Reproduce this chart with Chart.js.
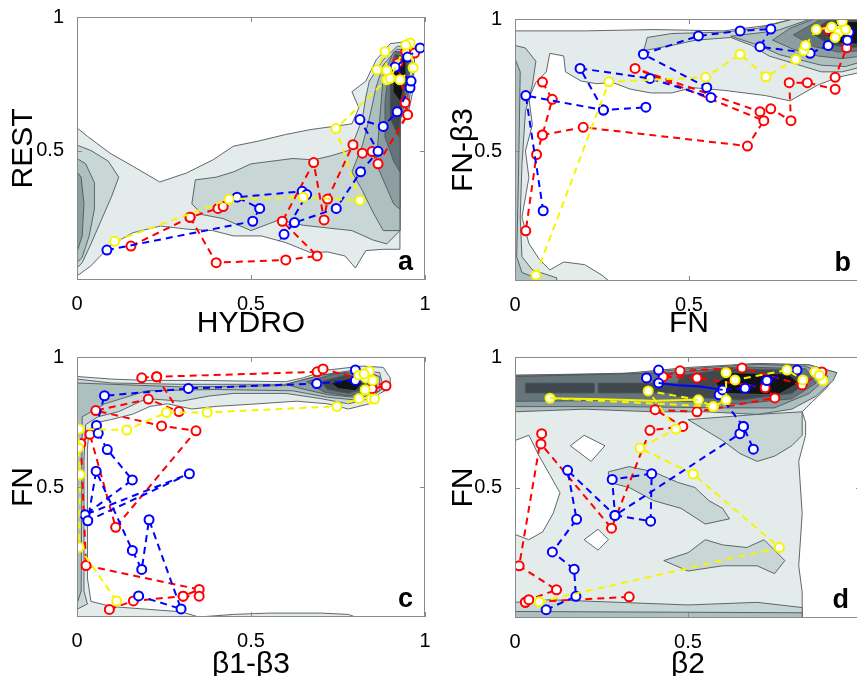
<!DOCTYPE html>
<html>
<head>
<meta charset="utf-8">
<script src="https://cdn.jsdelivr.net/npm/chart.js@4.4.1/dist/chart.umd.min.js"></script>
<style>
  html, body { margin: 0; padding: 0; background: #fff; width: 857px; height: 676px; overflow: hidden; }
  .panel { position: absolute; }
</style>
</head>
<body>
<div class="panel" style="left:0;top:0"><canvas id="panelA" width="440" height="346"></canvas></div>
<div class="panel" style="left:440px;top:0"><canvas id="panelB" width="440" height="346"></canvas></div>
<div class="panel" style="left:0;top:340px"><canvas id="panelC" width="440" height="347"></canvas></div>
<div class="panel" style="left:440px;top:340px"><canvas id="panelD" width="440" height="347"></canvas></div>
<script>
// ---- tick labels ----
const ticksFull = [0, 0.5, 1];
const ticksCut = [0, 0.5];
const ticksY = [0.5, 1];

// ---- panel a: REST vs HYDRO ----
const aRed1 = [[0.155,0.142],[0.325,0.25],[0.405,0.283],[0.42,0.29]];
const aRed2 = [[0.325,0.25],[0.40,0.08],[0.60,0.09],[0.69,0.105],[0.59,0.235],[0.68,0.455],[0.71,0.24],[0.72,0.318],[0.793,0.522],[0.82,0.49],[0.848,0.496],[0.865,0.45],[0.95,0.634],[0.943,0.679],[0.922,0.828],[0.945,0.87],[0.97,0.865]];
const aBlue = [[0.086,0.127],[0.505,0.235],[0.525,0.283],[0.46,0.325],[0.647,0.347],[0.66,0.335],[0.595,0.186],[0.625,0.23],[0.745,0.283],[0.815,0.42],[0.865,0.497],[0.813,0.616],[0.88,0.59],[0.92,0.645],[0.957,0.735],[0.96,0.76],[0.914,0.813],[0.95,0.85],[0.986,0.884]];
const aYellow = [[0.108,0.16],[0.437,0.317],[0.65,0.325],[0.813,0.313],[0.744,0.582],[0.89,0.765],[0.862,0.802],[0.885,0.87],[0.89,0.8],[0.928,0.765],[0.966,0.81],[0.957,0.903],[0.945,0.895],[0.9,0.77]];

const aC1 = [[0,0.585],[0.03,0.553],[0.095,0.49],[0.162,0.44],[0.238,0.382],[0.315,0.416],[0.392,0.466],[0.449,0.516],[0.52,0.535],[0.6,0.56],[0.669,0.578],[0.736,0.59],[0.79,0.6],[0.81,0.66],[0.79,0.72],[0.83,0.76],[0.86,0.84],[0.9,0.9],[0.96,0.91],[0.97,0.84],[0.965,0.72],[0.95,0.63],[0.928,0.6],[0.928,0.13],[0.88,0.13],[0.83,0.125],[0.80,0.06],[0.77,0.105],[0.72,0.12],[0.67,0.118],[0.6,0.155],[0.53,0.18],[0.45,0.18],[0.39,0.2],[0.32,0.205],[0.24,0.217],[0.16,0.192],[0.095,0.143],[0.04,0.068],[0,0.03]];
const aC2L = [[0,0.52],[0.04,0.5],[0.09,0.46],[0.12,0.4],[0.1,0.33],[0.07,0.24],[0.04,0.15],[0.015,0.08],[0,0.06]];
const aC2M = [[0.33,0.3],[0.34,0.39],[0.4,0.4],[0.45,0.42],[0.5,0.45],[0.56,0.46],[0.62,0.47],[0.68,0.465],[0.73,0.48],[0.78,0.5],[0.8,0.55],[0.82,0.62],[0.83,0.7],[0.84,0.76],[0.88,0.84],[0.92,0.89],[0.96,0.89],[0.965,0.78],[0.95,0.65],[0.928,0.62],[0.928,0.2],[0.89,0.15],[0.85,0.165],[0.79,0.2],[0.72,0.21],[0.65,0.22],[0.58,0.24],[0.5,0.2],[0.42,0.245],[0.36,0.26]];
const aC3L = [[0,0.47],[0.025,0.45],[0.05,0.38],[0.05,0.28],[0.035,0.18],[0.015,0.1],[0,0.08]];
const aC3R = [[0.79,0.42],[0.82,0.35],[0.85,0.27],[0.88,0.2],[0.928,0.2],[0.928,0.62],[0.95,0.67],[0.955,0.78],[0.96,0.87],[0.92,0.88],[0.88,0.82],[0.86,0.74],[0.84,0.62],[0.82,0.52]];
const aC4L = [[0,0.42],[0.012,0.4],[0.02,0.3],[0.015,0.18],[0,0.12]];
const aC4R = [[0.86,0.45],[0.89,0.36],[0.91,0.3],[0.928,0.28],[0.928,0.62],[0.95,0.7],[0.955,0.87],[0.91,0.87],[0.88,0.78],[0.87,0.62]];
const aC5 = [[0.885,0.55],[0.91,0.46],[0.928,0.42],[0.928,0.64],[0.948,0.72],[0.955,0.86],[0.915,0.87],[0.895,0.79],[0.885,0.68]];
const aC6 = [[0.9,0.62],[0.925,0.55],[0.935,0.68],[0.948,0.76],[0.95,0.85],[0.915,0.86],[0.9,0.77]];
const aC7 = [[0.908,0.72],[0.93,0.68],[0.945,0.78],[0.945,0.84],[0.92,0.85],[0.908,0.8]];

// ---- panel b: FN-b3 vs FN ----
const bRed1 = [[0.079,0.761],[0.107,0.696],[0.079,0.561],[0.062,0.487],[0.031,0.198]];
const bRed2 = [[0.079,0.561],[0.196,0.59],[0.668,0.519],[0.715,0.615],[0.345,0.813],[0.704,0.649],[0.735,0.66],[0.793,0.615],[0.788,0.759],[0.84,0.759],[0.92,0.734],[0.92,0.779],[0.953,0.891],[0.93,0.95],[0.9,0.96]];
const bBlue1 = [[0.081,0.274],[0.031,0.71],[0.254,0.655],[0.376,0.666]];
const bBlue2 = [[0.254,0.655],[0.187,0.813],[0.388,0.775],[0.563,0.703],[0.551,0.741],[0.369,0.867],[0.527,0.936],[0.647,0.955],[0.735,0.962],[0.704,0.895],[0.848,0.87],[0.9,0.9],[0.93,0.96],[0.96,0.95],[0.955,0.92]];
const bYellow = [[0.06,0.03],[0.27,0.762],[0.548,0.779],[0.647,0.867],[0.721,0.781],[0.807,0.847],[0.83,0.88],[0.835,0.9],[0.866,0.96],[0.91,0.97],[0.93,0.95],[0.94,0.99],[0.95,0.96],[0.92,0.93]];

const bC1 = [[0,0.955],[0.2,0.955],[0.4,0.96],[0.6,0.955],[0.72,0.975],[0.8,1],[1,1],[1,0.8],[0.93,0.78],[0.87,0.75],[0.83,0.72],[0.79,0.69],[0.72,0.71],[0.6,0.73],[0.51,0.74],[0.45,0.72],[0.39,0.72],[0.33,0.735],[0.28,0.76],[0.235,0.755],[0.19,0.765],[0.145,0.8],[0.14,0.86],[0.1,0.87],[0.09,0.8],[0.06,0.76],[0.04,0.7],[0.05,0.6],[0.03,0.5],[0.04,0.4],[0.02,0.25],[0.04,0.15],[0.07,0.09],[0.1,0.05],[0.14,0.08],[0.2,0.07],[0.25,0.03],[0.27,0.008],[0,0.008]];
const bC2T = [[0.37,0.88],[0.45,0.9],[0.52,0.92],[0.62,0.93],[0.68,0.9],[0.73,0.86],[0.78,0.84],[0.83,0.82],[0.88,0.8],[0.94,0.8],[1,0.82],[1,1],[0.8,1],[0.7,0.965],[0.6,0.95],[0.45,0.945],[0.38,0.93]];
const bC2L = [[0,0.9],[0.03,0.89],[0.06,0.84],[0.05,0.75],[0.03,0.65],[0.02,0.45],[0.015,0.25],[0.02,0.1],[0.05,0.05],[0.12,0.02],[0.12,0.008],[0,0.008]];
const bC3L = [[0,0.85],[0.015,0.8],[0.01,0.4],[0.005,0.1],[0.02,0.04],[0.06,0.02],[0.06,0.008],[0,0.008]];
const bC3 = [[0.62,0.935],[0.7,0.9],[0.76,0.865],[0.82,0.845],[0.88,0.825],[0.95,0.82],[1,0.84],[1,1],[0.85,1],[0.75,0.955]];
const bC4 = [[0.74,0.92],[0.8,0.885],[0.87,0.86],[0.94,0.85],[1,0.86],[1,1],[0.86,1],[0.79,0.965]];
const bC5 = [[0.8,0.94],[0.86,0.895],[0.93,0.875],[1,0.88],[1,1],[0.88,1]];
const bC6 = [[0.85,0.95],[0.9,0.905],[0.96,0.89],[1,0.895],[1,0.995],[0.9,0.995]];
const bC7 = [[0.88,0.96],[0.92,0.91],[0.98,0.905],[1,0.91],[1,0.99],[0.92,0.99]];

// ---- panel c: FN vs b1-b3 ----
const cRed1 = [[0.186,0.92],[0.229,0.924],[0.69,0.943],[0.707,0.954],[0.888,0.889],[0.848,0.878]];
const cRed2 = [[0.229,0.924],[0.293,0.79],[0.205,0.838],[0.054,0.794],[0.243,0.735],[0.342,0.716],[0.111,0.345],[0.037,0.703],[0.011,0.667],[0.026,0.198],[0.351,0.106],[0.305,0.08],[0.351,0.08]];
const cRed3 = [[0.093,0.029],[0.162,0.062],[0.305,0.08]];
const cBlue = [[0.8,0.95],[0.8,0.91],[0.689,0.898],[0.32,0.879],[0.079,0.851],[0.056,0.737],[0.061,0.707],[0.087,0.644],[0.159,0.527],[0.023,0.393],[0.323,0.551],[0.031,0.37],[0.055,0.561],[0.159,0.256],[0.186,0.183],[0.207,0.374],[0.299,0.031],[0.177,0.081]];
const cYellow = [[0.114,0.062],[0.006,0.268],[0.009,0.548],[0.004,0.65],[0.006,0.723],[0.143,0.719],[0.257,0.787],[0.374,0.787],[0.747,0.81],[0.81,0.84],[0.845,0.838],[0.855,0.838],[0.828,0.874],[0.83,0.92],[0.81,0.93],[0.84,0.945],[0.85,0.91],[0.825,0.935]];

const cC1 = [[0,0.925],[0.1,0.915],[0.2,0.91],[0.35,0.91],[0.6,0.905],[0.65,0.92],[0.72,0.95],[0.82,0.965],[0.88,0.96],[0.9,0.92],[0.9,0.88],[0.87,0.86],[0.84,0.82],[0.78,0.8],[0.72,0.82],[0.63,0.83],[0.52,0.82],[0.4,0.81],[0.33,0.8],[0.26,0.82],[0.21,0.81],[0.16,0.78],[0.1,0.76],[0.065,0.75],[0.035,0.72],[0.03,0.65],[0.03,0.15],[0.04,0.06],[0.1,0.04],[0.2,0.03],[0.3,0.02],[0.35,0],[0,0]];
const cC1B = [[0.35,0],[0.45,0.01],[0.55,0.015],[0.7,0.015],[0.78,0.01],[0.8,0]];
const cC2 = [[0,0.915],[0.1,0.9],[0.3,0.895],[0.6,0.895],[0.7,0.93],[0.8,0.95],[0.87,0.94],[0.88,0.88],[0.84,0.84],[0.78,0.82],[0.7,0.84],[0.6,0.86],[0.45,0.86],[0.38,0.85],[0.3,0.83],[0.2,0.84],[0.12,0.79],[0.06,0.77],[0.025,0.74],[0.02,0.6],[0.02,0.1],[0.03,0.05],[0,0.03]];
const cC3 = [[0,0.9],[0.3,0.885],[0.6,0.89],[0.7,0.925],[0.82,0.945],[0.87,0.925],[0.87,0.87],[0.8,0.835],[0.72,0.845],[0.62,0.87],[0.4,0.875],[0.2,0.87],[0.08,0.82],[0.015,0.77],[0.012,0.1],[0,0.05]];
const cC4 = [[0.6,0.895],[0.7,0.93],[0.8,0.945],[0.86,0.93],[0.86,0.87],[0.8,0.845],[0.72,0.855],[0.64,0.88]];
const cC5 = [[0.66,0.905],[0.74,0.935],[0.82,0.94],[0.85,0.915],[0.845,0.87],[0.78,0.85],[0.71,0.865]];
const cC6 = [[0.7,0.905],[0.77,0.93],[0.83,0.925],[0.835,0.88],[0.78,0.86],[0.72,0.875]];
const cC7 = [[0.73,0.9],[0.79,0.92],[0.82,0.9],[0.8,0.87],[0.75,0.878]];

// ---- panel d: FN vs b2 ----
const dRed1 = [[0.03,0.06],[0.04,0.07],[0.12,0.108],[0.012,0.2],[0.077,0.706],[0.075,0.667],[0.279,0.344],[0.39,0.719],[0.485,0.734],[0.405,0.798],[0.526,0.79],[0.751,0.843],[0.723,0.882],[0.526,0.92],[0.428,0.924],[0.477,0.947],[0.656,0.958],[0.83,0.893],[0.887,0.943]];
const dRed2 = [[0.03,0.06],[0.33,0.081]];
const dBlue1 = [[0.09,0.032],[0.176,0.083],[0.171,0.187],[0.108,0.253],[0.178,0.378],[0.152,0.566],[0.289,0.393],[0.281,0.531],[0.395,0.553],[0.392,0.371],[0.289,0.393],[0.65,0.706],[0.66,0.734],[0.689,0.647]];
const dBlue2 = [[0.66,0.734],[0.59,0.855],[0.6,0.874],[0.665,0.88],[0.728,0.91],[0.815,0.95]];
const dBlue3 = [[0.415,0.95],[0.415,0.9],[0.38,0.92]];
const dBlueSolid = [[0.415,0.9],[0.47,0.892],[0.53,0.888],[0.6,0.874]];
const dYellow = [[0.07,0.062],[0.764,0.27],[0.515,0.552],[0.361,0.651],[0.465,0.724],[0.385,0.87],[0.53,0.836],[0.573,0.81],[0.61,0.836],[0.61,0.94],[0.636,0.912],[0.786,0.95],[0.832,0.912],[0.867,0.943],[0.89,0.91],[0.88,0.93]];
const dYellow2 = [[0.101,0.842],[0.573,0.81]];
const dYellowSolid = [[0.101,0.842],[0.25,0.838],[0.4,0.832],[0.53,0.836]];

const dC1 = [[0,0],[0,0.93],[0.2,0.935],[0.4,0.94],[0.55,0.96],[0.7,0.975],[0.85,0.97],[0.93,0.94],[0.9,0.88],[0.86,0.83],[0.83,0.79],[0.84,0.75],[0.84,0.7],[0.82,0.6],[0.83,0.4],[0.82,0.2],[0.83,0.1],[0.83,0]];
const dHole1 = [[0,0.68],[0.04,0.7],[0.07,0.62],[0.1,0.55],[0.13,0.48],[0.11,0.4],[0.08,0.33],[0.04,0.3],[0,0.32]];
const dHole2 = [[0.2,0.3],[0.24,0.34],[0.27,0.3],[0.24,0.26]];
const dHole3 = [[0.16,0.66],[0.2,0.7],[0.26,0.66],[0.22,0.6]];
const dC2a = [[0.5,0.76],[0.55,0.72],[0.6,0.68],[0.65,0.63],[0.7,0.6],[0.75,0.62],[0.8,0.66],[0.83,0.7],[0.83,0.79],[0.7,0.78]];
const dC2b = [[0.27,0.56],[0.33,0.58],[0.4,0.56],[0.47,0.52],[0.52,0.5],[0.56,0.45],[0.6,0.42],[0.62,0.38],[0.55,0.36],[0.48,0.42],[0.4,0.45],[0.33,0.5],[0.27,0.52]];
const dC2c = [[0.43,0.22],[0.5,0.25],[0.55,0.3],[0.6,0.28],[0.67,0.27],[0.72,0.3],[0.78,0.22],[0.75,0.17],[0.7,0.2],[0.6,0.2],[0.5,0.18]];
const dC2d = [[0,0],[0,0.06],[0.1,0.07],[0.3,0.06],[0.5,0.05],[0.7,0.06],[0.83,0.04],[0.83,0]];
const dC3b = [[0,0],[0,0.025],[0.83,0.02],[0.83,0]];
const dC3 = [[0,0.79],[0.2,0.8],[0.4,0.79],[0.55,0.79],[0.7,0.78],[0.8,0.8],[0.87,0.85],[0.92,0.91],[0.93,0.94],[0.85,0.97],[0.7,0.975],[0.5,0.96],[0.3,0.935],[0,0.93]];
const dC4 = [[0,0.81],[0.3,0.81],[0.6,0.805],[0.75,0.805],[0.85,0.86],[0.905,0.925],[0.84,0.965],[0.7,0.972],[0.5,0.955],[0.3,0.93],[0,0.927]];
const dC5 = [[0,0.83],[0.4,0.835],[0.65,0.82],[0.8,0.84],[0.87,0.9],[0.84,0.955],[0.65,0.962],[0.45,0.94],[0,0.925]];
const dC6 = [[0.45,0.85],[0.65,0.835],[0.8,0.86],[0.85,0.91],[0.8,0.95],[0.62,0.955],[0.48,0.93]];
const dC7 = [[0.6,0.86],[0.76,0.855],[0.82,0.9],[0.79,0.935],[0.63,0.94],[0.58,0.9]];
const dR1 = [[0.03,0.862],[0.23,0.862],[0.23,0.9],[0.03,0.9]];
const dR2 = [[0.24,0.862],[0.486,0.862],[0.486,0.9],[0.24,0.9]];

const levelFills = ['#ffffff', '#e3ebeb', '#c9d6d6', '#aebfc0', '#8c9ea1', '#66757a', '#3f484d', '#101214'];

const contourSets = {
    panelA: [[1, aC1], [2, aC2L], [2, aC2M], [3, aC3L], [3, aC3R], [4, aC4L], [4, aC4R], [5, aC5], [6, aC6], [7, aC7]],
    panelB: [[1, bC1], [2, bC2T], [2, bC2L], [3, bC3L], [3, bC3], [4, bC4], [5, bC5], [6, bC6], [7, bC7]],
    panelC: [[1, cC1], [1, cC1B], [2, cC2], [3, cC3], [4, cC4], [5, cC5], [6, cC6], [7, cC7]],
    panelD: [[1, dC1], [0, dHole1], [0, dHole2], [0, dHole3], [2, dC2a], [2, dC2b], [2, dC2c], [2, dC2d], [3, dC3b], [3, dC3], [4, dC4], [5, dC5], [6, dR1], [6, dR2], [6, dC6], [7, dC7]],
};

const FONT = "'Liberation Sans', Arial, Helvetica, sans-serif";

const contourPlugin = {
    id: 'contours',
    beforeDatasetsDraw(chart) {
        const shapes = contourSets[chart.canvas.id] ?? [];
        const {ctx, chartArea: area, scales: {x, y}} = chart;
        ctx.save();
        ctx.beginPath();
        ctx.rect(area.left, area.top, area.width, area.height);
        ctx.clip();
        shapes.forEach(([level, pts]) => {
            ctx.beginPath();
            pts.forEach(([vx, vy], i) => {
                const px = x.getPixelForValue(vx);
                const py = y.getPixelForValue(vy);
                if (i === 0) ctx.moveTo(px, py); else ctx.lineTo(px, py);
            });
            ctx.closePath();
            ctx.fillStyle = levelFills[level];
            ctx.fill();
            ctx.strokeStyle = '#50575a';
            ctx.lineWidth = 0.9;
            ctx.stroke();
        });
        ctx.restore();
    },
};

const framePlugin = {
    id: 'frame',
    afterDraw(chart, args, opts) {
        const {ctx, chartArea: area, scales: {x, y}} = chart;
        ctx.save();
        ctx.strokeStyle = '#8a8a8a';
        ctx.lineWidth = 1;
        ctx.strokeRect(area.left + 0.5, area.top + 0.5, area.width - 1, area.height - 1);
        ctx.beginPath();
        x.ticks.forEach((t) => {
            const px = Math.round(x.getPixelForValue(t.value)) + 0.5;
            ctx.moveTo(px, area.bottom); ctx.lineTo(px, area.bottom - 5);
            ctx.moveTo(px, area.top); ctx.lineTo(px, area.top + 5);
        });
        y.ticks.forEach((t) => {
            const py = Math.round(y.getPixelForValue(t.value)) + 0.5;
            ctx.moveTo(area.left, py); ctx.lineTo(area.left + 5, py);
            ctx.moveTo(area.right, py); ctx.lineTo(area.right - 5, py);
        });
        ctx.stroke();
        ctx.fillStyle = '#000';
        ctx.font = `bold 27px ${FONT}`;
        ctx.textAlign = 'right';
        ctx.textBaseline = 'alphabetic';
        ctx.fillText(opts.letter, area.right - 12, area.bottom - 10);
        ctx.restore();
    },
};

function track(color, pts, solid) {
    return {
        data: pts.map(([x, y]) => ({x, y})),
        showLine: true,
        borderColor: color,
        borderWidth: 2,
        borderDash: solid ? [] : [7, 5],
        pointRadius: solid ? 0 : 4.5,
        pointBorderWidth: 2,
        pointBorderColor: color,
        pointBackgroundColor: '#ffffff',
        pointStyle: 'circle',
        tension: 0,
    };
}

const RED = '#ff0000';
const BLUE = '#0000ff';
const YELLOW = '#f5f500';

function makePanel(id, p) {
    new Chart(document.getElementById(id), {
        type: 'scatter',
        data: {datasets: p.datasets},
        plugins: [contourPlugin, framePlugin],
        options: {
            responsive: false,
            animation: false,
            layout: {padding: {top: p.top, right: p.right, left: 0, bottom: 0}},
            scales: {
                x: {
                    type: 'linear',
                    min: p.xMin,
                    max: 1,
                    grid: {display: false},
                    border: {display: false},
                    afterBuildTicks: (s) => { s.ticks = p.xTicks.map((v) => ({value: v})); },
                    afterFit: (s) => { s.height = p.xH; },
                    ticks: {font: {family: FONT, size: 20}, color: '#000', padding: 4, maxRotation: 0, callback: (v) => String(v)},
                    title: {display: true, text: p.xTitle, color: '#000', font: {family: FONT, size: 30}, padding: {top: 0, bottom: 4}},
                },
                y: {
                    type: 'linear',
                    min: p.yMin,
                    max: 1,
                    grid: {display: false},
                    border: {display: false},
                    afterBuildTicks: (s) => { s.ticks = ticksY.map((v) => ({value: v})); },
                    afterFit: (s) => { s.width = p.yW; },
                    ticks: {font: {family: FONT, size: 20}, color: '#000', padding: 5, callback: (v) => String(v)},
                    title: {display: true, text: p.yTitle, color: '#000', font: {family: FONT, size: 30}, padding: {top: 6, bottom: 0}},
                },
            },
            plugins: {
                legend: {display: false},
                tooltip: {enabled: false},
                frame: {letter: p.letter},
            },
        },
    });
}

makePanel('panelA', {
    letter: 'a', xTitle: 'HYDRO', yTitle: 'REST', xTicks: ticksFull,
    xMin: 0, yMin: 0.015, top: 17, right: 15, yW: 77, xH: 66,
    datasets: [track(YELLOW, aYellow), track(BLUE, aBlue), track(RED, aRed1), track(RED, aRed2)],
});

makePanel('panelB', {
    letter: 'b', xTitle: 'FN', yTitle: 'FN-β3', xTicks: ticksCut,
    xMin: 0, yMin: 0.008, top: 19, right: 17, yW: 75, xH: 65,
    datasets: [track(YELLOW, bYellow), track(BLUE, bBlue1), track(BLUE, bBlue2), track(RED, bRed1), track(RED, bRed2)],
});

makePanel('panelC', {
    letter: 'c', xTitle: 'β1-β3', yTitle: 'FN', xTicks: ticksFull,
    xMin: 0, yMin: 0, top: 15, right: 15, yW: 77, xH: 70,
    datasets: [track(YELLOW, cYellow), track(BLUE, cBlue), track(RED, cRed1), track(RED, cRed2), track(RED, cRed3)],
});

makePanel('panelD', {
    letter: 'd', xTitle: 'β2', yTitle: 'FN', xTicks: ticksCut,
    xMin: 0, yMin: 0, top: 17, right: 19, yW: 75, xH: 69,
    datasets: [track(YELLOW, dYellowSolid, true), track(YELLOW, dYellow), track(YELLOW, dYellow2),
        track(BLUE, dBlueSolid, true), track(BLUE, dBlue1), track(BLUE, dBlue2), track(BLUE, dBlue3),
        track(RED, dRed1), track(RED, dRed2)],
});
</script>
</body>
</html>
